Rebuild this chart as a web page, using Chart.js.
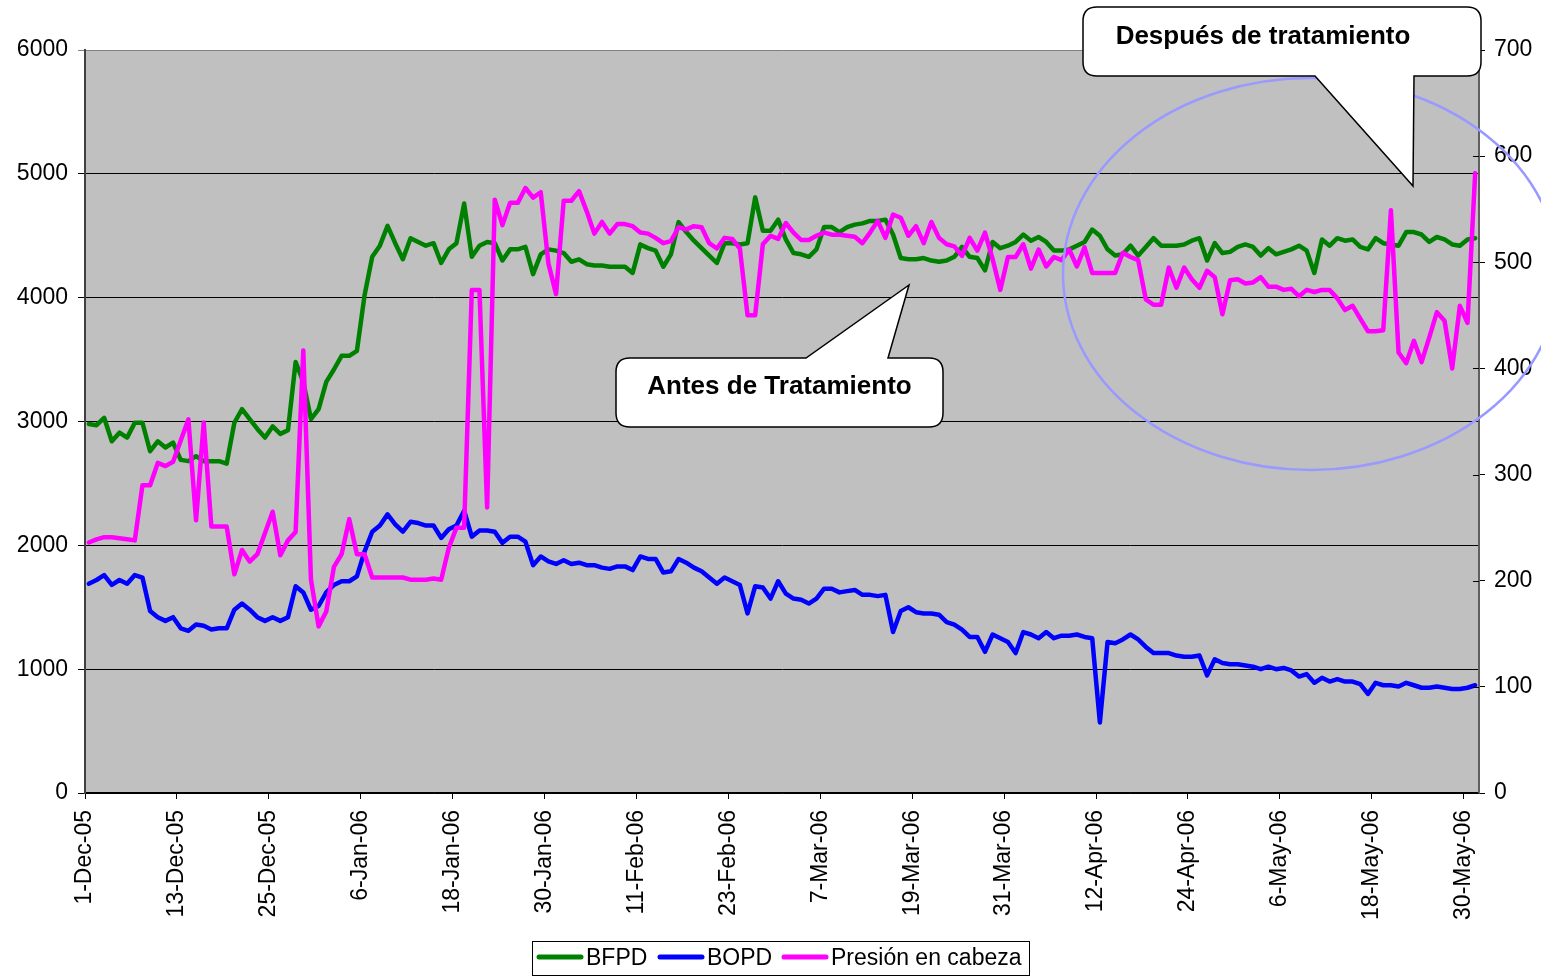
<!DOCTYPE html>
<html>
<head>
<meta charset="utf-8">
<script src="https://cdn.jsdelivr.net/npm/chart.js@4/dist/chart.umd.min.js"></script>
<style>
  html, body { margin: 0; padding: 0; background: #ffffff; }
  #wrap { width: 1541px; height: 978px; position: relative; }
</style>
</head>
<body>
<div id="wrap"><canvas id="chart" width="1541" height="978"></canvas></div>
<script>
// Daily series, 1-Dec-05 .. 31-May-06 (182 days)
const dayCount = 182;
const daysPerTick = 12;
const tickLabels = ['1-Dec-05', '13-Dec-05', '25-Dec-05', '6-Jan-06', '18-Jan-06', '30-Jan-06',
  '11-Feb-06', '23-Feb-06', '7-Mar-06', '19-Mar-06', '31-Mar-06', '12-Apr-06',
  '24-Apr-06', '6-May-06', '18-May-06', '30-May-06'];

const seriesNames = ['BFPD', 'BOPD', 'Presión en cabeza'];

// Barrels of fluid per day (left axis)
const bfpd = [
  2980, 2970, 3030, 2840, 2910, 2870, 2990, 2990, 2760, 2840, 2790, 2830, 2690, 2680, 2720, 2680, 2680, 2680, 2660, 2990, 3100, 3020, 2940,
  2870, 2960, 2900, 2930, 3480, 3320, 3020, 3100, 3320, 3420, 3530, 3530, 3570, 4020, 4330, 4420, 4580, 4440, 4310, 4480, 4450, 4420,
  4440, 4280, 4390, 4440, 4760, 4330, 4420, 4450, 4440, 4300, 4390, 4390, 4410, 4190, 4350, 4390, 4380, 4360, 4290, 4310, 4270, 4260,
  4260, 4250, 4250, 4250, 4200, 4430, 4400, 4380, 4250, 4350, 4610, 4530, 4460, 4400, 4340, 4280, 4440, 4440, 4430, 4440, 4810, 4540, 4540,
  4630, 4470, 4360, 4350, 4330, 4390, 4570, 4570, 4530, 4570, 4590, 4600, 4620, 4620, 4630, 4510, 4320, 4310, 4310, 4320, 4300, 4290,
  4300, 4330, 4410, 4330, 4320, 4220, 4450, 4400, 4420, 4450, 4510, 4460, 4490, 4450, 4380, 4380, 4390, 4420, 4450, 4550, 4500, 4390,
  4340, 4350, 4420, 4340, 4410, 4480, 4420, 4420, 4420, 4430, 4460, 4480, 4300, 4440, 4360, 4370, 4410, 4430, 4410, 4340, 4400, 4350,
  4370, 4390, 4420, 4380, 4200, 4470, 4420, 4480, 4460, 4470, 4410, 4390, 4480, 4440, 4430, 4420, 4530, 4530, 4510, 4450, 4490, 4470, 4430, 4420, 4470, 4480
];

// Barrels of oil per day (left axis)
const bopd = [
  1690, 1720, 1760, 1680, 1720, 1690, 1760, 1740, 1470, 1420, 1390, 1420, 1330, 1310, 1360, 1350, 1320, 1330, 1330, 1480, 1530, 1480, 1420,
  1390, 1420, 1390, 1420, 1670, 1620, 1480, 1510, 1620, 1680, 1710, 1710, 1750, 1950, 2110, 2160, 2250, 2170, 2110, 2190, 2180, 2160,
  2160, 2060, 2130, 2160, 2280, 2070, 2120, 2120, 2110, 2020, 2070, 2070, 2030, 1840, 1910, 1870, 1850, 1880, 1850, 1860, 1840, 1840,
  1820, 1810, 1830, 1830, 1800, 1910, 1890, 1890, 1780, 1790, 1890, 1860, 1820, 1790, 1740, 1690, 1740, 1710, 1680, 1450, 1670, 1660, 1570,
  1710, 1610, 1570, 1560, 1530, 1570, 1650, 1650, 1620, 1630, 1640, 1600, 1600, 1590, 1600, 1300, 1470, 1500, 1460, 1450, 1450, 1440,
  1380, 1360, 1320, 1260, 1260, 1140, 1280, 1250, 1220, 1130, 1300, 1280, 1250, 1300, 1250, 1270, 1270, 1280, 1260, 1250, 570, 1220,
  1210, 1240, 1280, 1240, 1180, 1130, 1130, 1130, 1110, 1100, 1100, 1110, 950, 1080, 1050, 1040, 1040, 1030, 1020, 1000, 1020, 1000,
  1010, 990, 940, 960, 890, 930, 900, 920, 900, 900, 880, 800, 890, 870, 870, 860, 890, 870, 850, 850, 860, 850, 840, 840, 850, 870
];

// Wellhead pressure (right axis)
const presion = [
  236, 239, 241, 241, 240, 239, 238, 290, 290, 311, 308, 312, 332, 352, 257, 349, 251, 251, 251, 206, 229, 218, 225,
  245, 265, 224, 238, 246, 417, 201, 157, 171, 213, 225, 258, 225, 225, 203, 203, 203, 203, 203, 201, 201, 201,
  202, 201, 231, 250, 250, 474, 474, 269, 559, 535, 556, 556, 570, 561, 566, 499, 470, 558, 558, 567, 548, 527,
  538, 527, 536, 536, 534, 528, 527, 523, 518, 520, 533, 531, 534, 533, 518, 513, 523, 522, 513, 450, 450, 517, 525,
  522, 537, 528, 521, 521, 525, 528, 526, 526, 525, 524, 518, 528, 539, 523, 545, 542, 525, 534, 518, 538, 523,
  517, 515, 506, 523, 511, 528, 503, 474, 505, 505, 517, 494, 512, 496, 505, 502, 512, 496, 514, 490, 490, 490,
  490, 509, 505, 502, 465, 460, 460, 495, 476, 495, 484, 476, 492, 486, 451, 483, 484, 480, 481, 486, 477, 477,
  474, 475, 468, 474, 472, 474, 474, 466, 455, 459, 447, 435, 435, 436, 549, 415, 405, 426, 406, 429, 453, 445, 400, 459, 443, 584
];

const COLORS = { bfpd: '#008000', bopd: '#0000FF', presion: '#FF00FF' };
const FONT = '"Liberation Sans", Arial, Helvetica, sans-serif';
const TICK_FONT = { family: FONT, size: 23 };

// each day sits in the middle of its one-day slot on the date axis
function toPoints(values) {
  return values.map((v, i) => ({ x: i + 0.5, y: v }));
}

// grey plot background
const plotBackground = {
  id: 'plotBackground',
  beforeDraw(chart) {
    const { ctx, chartArea: a } = chart;
    ctx.save();
    ctx.fillStyle = '#C0C0C0';
    ctx.fillRect(a.left, a.top, a.right - a.left, a.bottom - a.top);
    ctx.restore();
  }
};

function drawCallout(ctx, box, ptr) {
  const { l, t, r, b, rad } = box;
  ctx.beginPath();
  ctx.moveTo(l + rad, t);
  if (ptr.edge === 'top') {
    ctx.lineTo(ptr.x1, t);
    ctx.lineTo(ptr.tx, ptr.ty);
    ctx.lineTo(ptr.x2, t);
  }
  ctx.lineTo(r - rad, t);
  ctx.quadraticCurveTo(r, t, r, t + rad);
  ctx.lineTo(r, b - rad);
  ctx.quadraticCurveTo(r, b, r - rad, b);
  if (ptr.edge === 'bottom') {
    ctx.lineTo(ptr.x2, b);
    ctx.lineTo(ptr.tx, ptr.ty);
    ctx.lineTo(ptr.x1, b);
  }
  ctx.lineTo(l + rad, b);
  ctx.quadraticCurveTo(l, b, l, b - rad);
  ctx.lineTo(l, t + rad);
  ctx.quadraticCurveTo(l, t, l + rad, t);
  ctx.closePath();
  ctx.fillStyle = '#FFFFFF';
  ctx.fill();
  ctx.lineWidth = 1.5;
  ctx.strokeStyle = '#000000';
  ctx.stroke();
}

const overlays = {
  id: 'overlays',
  afterDraw(chart) {
    const ctx = chart.ctx;
    const a = chart.chartArea;
    const y1 = chart.scales.y1;
    ctx.save();

    // inner half of the right-axis cross ticks
    ctx.strokeStyle = '#000000';
    ctx.lineWidth = 1;
    y1.ticks.forEach(tk => {
      const py = Math.round(y1.getPixelForValue(tk.value)) + 0.5;
      ctx.beginPath();
      ctx.moveTo(a.right - 6, py);
      ctx.lineTo(a.right, py);
      ctx.stroke();
    });

    // highlight ellipse around the post-treatment period
    ctx.beginPath();
    ctx.ellipse(1311, 274, 248, 196, 0, 0, Math.PI * 2);
    ctx.strokeStyle = '#9999FF';
    ctx.lineWidth = 2.5;
    ctx.stroke();

    // callouts
    drawCallout(ctx, { l: 616, t: 358, r: 943, b: 427, rad: 14 },
      { edge: 'top', x1: 806, x2: 888, tx: 909, ty: 285 });
    drawCallout(ctx, { l: 1083, t: 7, r: 1481, b: 76, rad: 14 },
      { edge: 'bottom', x1: 1315, x2: 1414, tx: 1413, ty: 186 });

    ctx.fillStyle = '#000000';
    ctx.font = 'bold 26px ' + FONT;
    ctx.textAlign = 'center';
    ctx.textBaseline = 'alphabetic';
    ctx.fillText('Antes de Tratamiento', 779.5, 394);
    ctx.fillText('Después de tratamiento', 1263, 44);

    // legend
    ctx.lineWidth = 1;
    ctx.strokeStyle = '#000000';
    ctx.fillStyle = '#FFFFFF';
    ctx.fillRect(532.5, 941.5, 497, 34);
    ctx.strokeRect(532.5, 941.5, 497, 34);
    const items = [
      { name: seriesNames[0], color: COLORS.bfpd, x: 537 },
      { name: seriesNames[1], color: COLORS.bopd, x: 658 },
      { name: seriesNames[2], color: COLORS.presion, x: 782 }
    ];
    ctx.font = '23px ' + FONT;
    ctx.textAlign = 'left';
    ctx.textBaseline = 'middle';
    items.forEach(it => {
      ctx.beginPath();
      ctx.moveTo(it.x + 2, 957);
      ctx.lineTo(it.x + 44, 957);
      ctx.strokeStyle = it.color;
      ctx.lineWidth = 5;
      ctx.lineCap = 'round';
      ctx.stroke();
      ctx.fillStyle = '#000000';
      ctx.fillText(it.name, it.x + 49, 959);
    });
    ctx.restore();
  }
};

const lineStyle = { borderWidth: 4.5, tension: 0, fill: false, pointRadius: 0,
  borderJoinStyle: 'round', borderCapStyle: 'round' };

new Chart(document.getElementById('chart'), {
  type: 'line',
  data: {
    datasets: [
      Object.assign({ label: seriesNames[0], data: toPoints(bfpd), yAxisID: 'y', borderColor: COLORS.bfpd, order: 3 }, lineStyle),
      Object.assign({ label: seriesNames[1], data: toPoints(bopd), yAxisID: 'y', borderColor: COLORS.bopd, order: 2 }, lineStyle),
      Object.assign({ label: seriesNames[2], data: toPoints(presion), yAxisID: 'y1', borderColor: COLORS.presion, order: 1 }, lineStyle)
    ]
  },
  options: {
    responsive: false,
    animation: false,
    events: [],
    layout: { padding: { top: 50, left: 0, right: 0, bottom: 0 } },
    plugins: { legend: { display: false }, tooltip: { enabled: false } },
    scales: {
      x: {
        type: 'linear',
        min: 0,
        max: dayCount,
        afterBuildTicks: scale => {
          scale.ticks = tickLabels.map((_, k) => ({ value: k * daysPerTick }));
        },
        afterFit: scale => { scale.height = 185; },
        ticks: {
          autoSkip: false,
          minRotation: 90,
          maxRotation: 90,
          padding: 11,
          color: '#000000',
          font: TICK_FONT,
          callback: value => tickLabels[Math.round(value / daysPerTick)] || ''
        },
        grid: { drawOnChartArea: false, drawTicks: true, tickLength: 6, color: '#000000', lineWidth: 1 },
        border: { display: true, color: '#000000', width: 1.5 }
      },
      y: {
        position: 'left',
        min: 0,
        max: 6000,
        afterFit: scale => { scale.width = 85; },
        ticks: {
          stepSize: 1000,
          padding: 10,
          color: '#000000',
          font: TICK_FONT,
          callback: value => String(value)
        },
        grid: {
          drawTicks: true,
          tickLength: 7,
          lineWidth: 1,
          color: c => (c.tick && c.tick.value === 6000) ? '#808080' : '#000000'
        },
        border: { display: true, color: '#404040', width: 2 }
      },
      y1: {
        position: 'right',
        min: 0,
        max: 700,
        afterFit: scale => { scale.width = 62; },
        ticks: {
          stepSize: 100,
          padding: 9,
          color: '#000000',
          font: TICK_FONT,
          callback: value => String(value)
        },
        grid: { drawOnChartArea: false, drawTicks: true, tickLength: 6, color: '#000000', lineWidth: 1 },
        border: { display: true, color: '#606060', width: 2 }
      }
    }
  },
  plugins: [plotBackground, overlays]
});
</script>
</body>
</html>
